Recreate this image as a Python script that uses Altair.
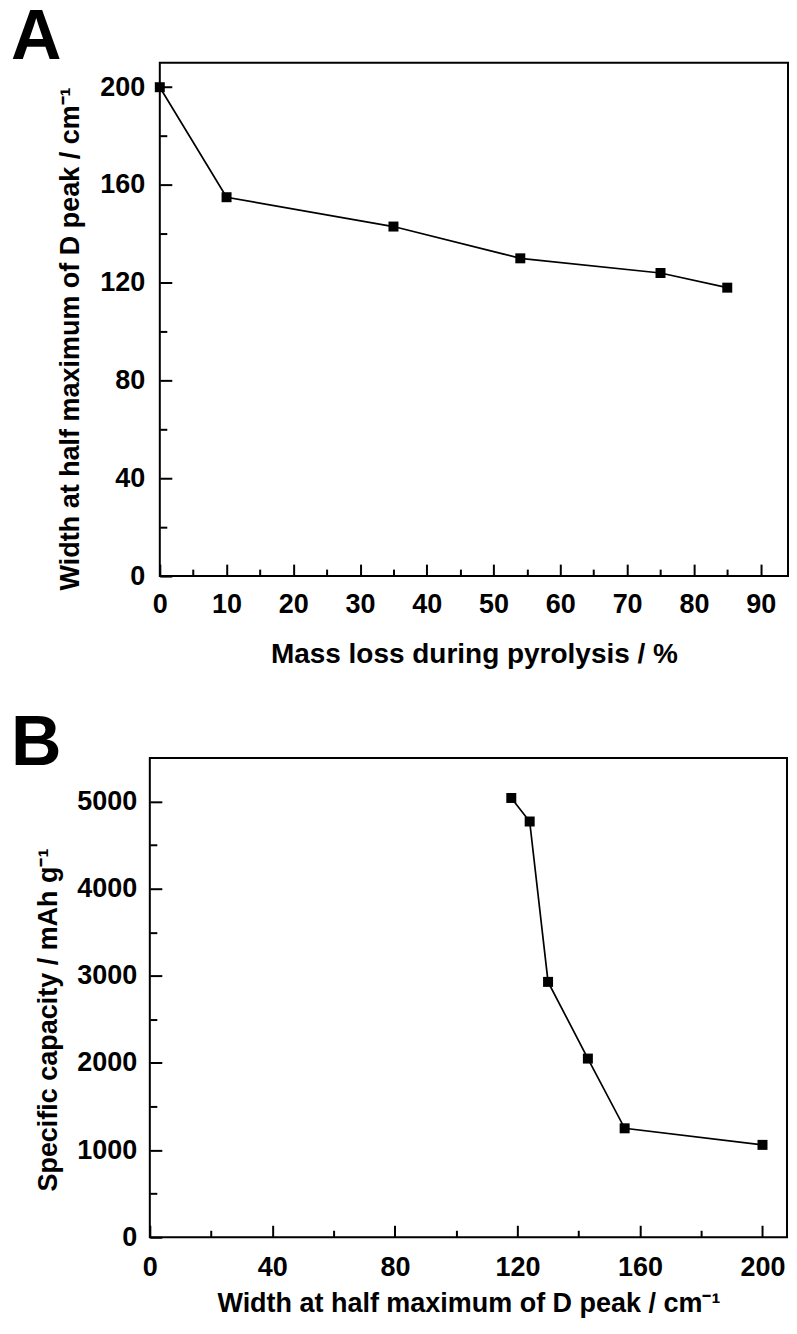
import altair as alt
import pandas as pd

# ---- data ----
mass_loss = [0, 10, 35, 54, 75, 85]            # Mass loss during pyrolysis / %
fwhm_a = [200, 155, 143, 130, 124, 118]        # Width at half maximum of D peak / cm-1
fwhm_b = [118, 124, 130, 143, 155, 200]        # Width at half maximum of D peak / cm-1
capacity = [5040, 4770, 2930, 2050, 1250, 1060]  # Specific capacity / mAh g-1

# ---- tick values ----
a_x_major = [0, 10, 20, 30, 40, 50, 60, 70, 80, 90]
a_x_minor = [5, 15, 25, 35, 45, 55, 65, 75, 85]
a_y_major = [0, 40, 80, 120, 160, 200]
a_y_minor = [20, 60, 100, 140, 180]
b_x_major = [0, 40, 80, 120, 160, 200]
b_x_minor = [20, 60, 100, 140, 180]
b_y_major = [0, 1000, 2000, 3000, 4000, 5000]
b_y_minor = [500, 1500, 2500, 3500, 4500]

FONT = "Liberation Sans"
MAJ = 12
MIN = 7

df_a = pd.DataFrame({"x": mass_loss, "y": fwhm_a})
df_b = pd.DataFrame({"x": fwhm_b, "y": capacity})
df_blank = pd.DataFrame({"v": [0]})


def panel(df, xdom, ydom, xmaj, xmin, ymaj, ymin, xtitle, ytitle, w, h,
          lpx, lpy, tpx, ytx, yty, xts):
    xs = alt.Scale(domain=xdom, nice=False, zero=False)
    ys = alt.Scale(domain=ydom, nice=False, zero=False)
    line = alt.Chart(df).mark_line(color="black", strokeWidth=1.7).encode(
        x=alt.X("x:Q", scale=xs, axis=alt.Axis(
            orient="bottom", values=xmaj, offset=-MAJ, tickSize=MAJ,
            labelPadding=lpx, labelFlush=False, title=xtitle, titlePadding=tpx,
            titleFontSize=xts, format="d")),
        y=alt.Y("y:Q", scale=ys, axis=alt.Axis(
            orient="left", values=ymaj, offset=-MAJ, tickSize=MAJ,
            labelPadding=lpy, labelFlush=False, title=ytitle, titleX=ytx, titleY=yty,
            titleBaseline="alphabetic", titleAlign="center", format="d")),
    )
    pts = alt.Chart(df).mark_square(size=100, color="black", opacity=1).encode(
        x=alt.X("x:Q", scale=xs, axis=None),
        y=alt.Y("y:Q", scale=ys, axis=None),
    )
    minor = alt.Chart(df).mark_point(opacity=0).encode(
        x=alt.X("x:Q", scale=xs, axis=alt.Axis(
            orient="bottom", values=xmin, offset=-MIN, tickSize=MIN,
            labels=False, title=None)),
        y=alt.Y("y:Q", scale=ys, axis=alt.Axis(
            orient="left", values=ymin, offset=-MIN, tickSize=MIN,
            labels=False, title=None)),
    )
    return alt.layer(line, pts, minor).resolve_axis(
        x="independent", y="independent"
    ).properties(width=w, height=h)


def letter_box(letter, w, dy):
    # empty, frameless box that only carries the panel letter as its title
    return alt.Chart(df_blank).mark_point(opacity=0).encode(
        x=alt.X("v:Q", axis=None), y=alt.Y("v:Q", axis=None)
    ).properties(
        width=w, height=1,
        view=alt.ViewConfig(stroke="transparent"),
        title=alt.TitleParams(letter, anchor="start", frame="group", dy=dy,
                              offset=0, fontSize=70, font=FONT, fontWeight="bold",
                              baseline="top", color="black"),
    )


panel_a = panel(df_a, [0, 94.1], [0, 210], a_x_major, a_x_minor, a_y_major, a_y_minor,
                "Mass loss during pyrolysis / %",
                "Width at half maximum of D peak / cm\u207b\u00b9",
                629, 514, 15, 15, 23, -93, 276, 28)

panel_b = panel(df_b, [0, 208], [0, 5500], b_x_major, b_x_minor, b_y_major, b_y_minor,
                "Width at half maximum of D peak / cm\u207b\u00b9",
                "Specific capacity / mAh g\u207b\u00b9",
                638, 480, 17, 13, 10, -105, 262, 27)

row_a = alt.hconcat(letter_box("A", 44, 13), panel_a, spacing=-8)
row_b = alt.hconcat(letter_box("B", 25, 24), panel_b, spacing=-30)

chart = alt.vconcat(row_a, row_b, spacing=38).properties(
    padding={"left": 2, "top": -8, "right": 0, "bottom": 0},
    background="white",
).configure_view(
    stroke="black", strokeWidth=2
).configure_axis(
    domain=False, grid=False, tickColor="black", tickWidth=2,
    labelFont=FONT, labelFontSize=27, labelFontWeight="bold", labelColor="black",
    titleFont=FONT, titleFontSize=27, titleFontWeight="bold", titleColor="black",
)

chart.save("out.html", embed_options={"renderer": "svg", "actions": False})
